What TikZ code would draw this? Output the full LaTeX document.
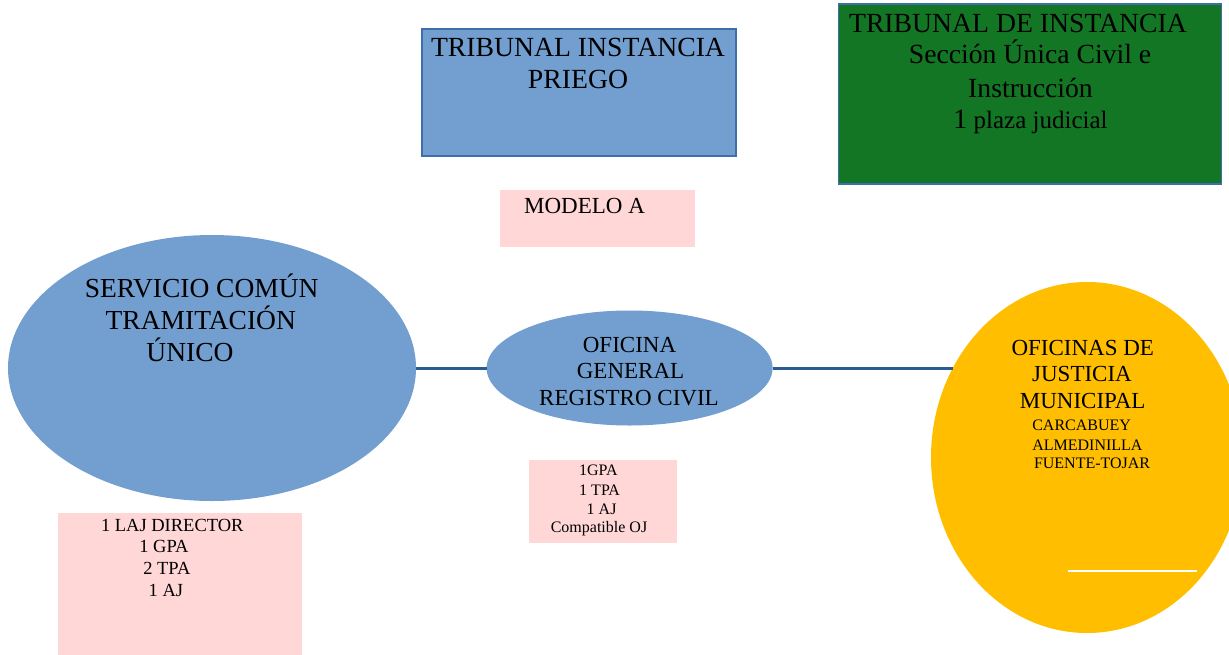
\documentclass[tikz,border=0pt]{standalone}
\usepackage{fontspec}
\setmainfont{Liberation Serif}
\usetikzlibrary{shapes.geometric}
\definecolor{skyb}{RGB}{114,159,207}
\definecolor{skybd}{RGB}{62,110,172}
\definecolor{darkg}{RGB}{19,118,36}
\definecolor{amber}{RGB}{255,191,0}
\definecolor{pinkbg}{RGB}{255,215,215}
\definecolor{linkb}{RGB}{42,92,148}
\newcommand\myfs[1]{\fontsize{#1}{#1}\selectfont}
\begin{document}
\begin{tikzpicture}[x=1pt,y=-1pt,
  box/.style={rectangle,inner sep=0,outer sep=0,anchor=north west},
  oval/.style={ellipse,inner sep=0,outer sep=0},
  conn/.style={draw=linkb,line width=3pt},
  txt/.style={inner sep=0,outer sep=0,anchor=base},
  txtl/.style={inner sep=0,outer sep=0,anchor=base west}]
\useasboundingbox (0,0) rectangle (1229,654);
\fill[white] (0,0) rectangle (1229,654);

% shapes
\node[box,fill=skyb,draw=skybd,line width=1.5pt,minimum width=314pt,minimum height=127pt] (tip) at (422,29) {};
\node[box,fill=darkg,draw=skybd,line width=1.2pt,minimum width=383pt,minimum height=180pt] (tdi) at (838.5,4) {};
\node[box,fill=pinkbg,minimum width=195pt,minimum height=57pt] (moda) at (500,190) {};
\node[oval,fill=skyb,minimum width=408pt,minimum height=266pt] (scu) at (212,368) {};
\node[oval,fill=skyb,minimum width=286pt,minimum height=115pt] (ogrc) at (629.6,368) {};
\node[oval,fill=amber,minimum width=312pt,minimum height=351pt] (ojm) at (1087,457.5) {};
\node[box,fill=pinkbg,minimum width=244pt,minimum height=142pt] (pscu) at (58,513) {};
\node[box,fill=pinkbg,minimum width=147.5pt,minimum height=82.5pt] (pogrc) at (529.3,460) {};

% connectors
\draw[conn] (scu.east) -- (ogrc.west);
\draw[conn] (ogrc.east) -- (ogrc.east -| ojm.146.3);

% white rule inside the yellow ellipse
\coordinate (wl1) at (1068,571);
\coordinate (wl2) at (1197,571);
\draw[white,line width=1.6pt] (wl1) -- (wl2);

% texts: Tribunal Instancia Priego
\node[txt,font=\myfs{27.7}] (t1a) at (578,56) {TRIBUNAL INSTANCIA};
\node[txt,font=\myfs{27.7}] (t1b) at (578,88) {PRIEGO};

% green box
\node[txt,font=\myfs{27.7}] (t2a) at (1018,32) {TRIBUNAL DE INSTANCIA};
\node[txt,font=\myfs{27.7}] (t2b) at (1030,63) {Sección Única Civil e};
\node[txt,font=\myfs{27.7}] (t2c) at (1030.5,97) {Instrucción};
\node[txt,font=\myfs{25}] (t2d) at (1030.5,128) {{\myfs{28}1} plaza judicial};

% Modelo A
\node[txt,font=\myfs{23}] (t3) at (584.5,213) {MODELO A};

% Servicio comun
\node[txt,font=\myfs{27.5}] (t4a) at (201.7,297) {SERVICIO COMÚN};
\node[txt,font=\myfs{27.5}] (t4b) at (200.8,329) {TRAMITACIÓN};
\node[txt,font=\myfs{27.5}] (t4c) at (190,361) {ÚNICO};

% Oficina general registro civil
\node[txt,font=\myfs{23}] (t5a) at (629.5,352) {OFICINA};
\node[txt,font=\myfs{23}] (t5b) at (630.5,378) {GENERAL};
\node[txt,font=\myfs{23}] (t5c) at (629,405) {REGISTRO CIVIL};

% Oficinas de justicia municipal
\node[txt,font=\myfs{23}] (t6a) at (1082.8,355) {OFICINAS DE};
\node[txt,font=\myfs{23}] (t6b) at (1082,381.7) {JUSTICIA};
\node[txt,font=\myfs{23}] (t6c) at (1082.7,408) {MUNICIPAL};
\node[txtl,font=\myfs{16}] (t6d) at (1032.3,430) {CARCABUEY};
\node[txtl,font=\myfs{16}] (t6e) at (1032.3,450) {ALMEDINILLA};
\node[txtl,font=\myfs{16}] (t6f) at (1034,468) {FUENTE-TOJAR};

% staff of servicio comun
\node[txtl,font=\myfs{18.5}] (t7a) at (101,531.7) {1 LAJ DIRECTOR};
\node[txtl,font=\myfs{18.5}] (t7b) at (139.3,552.7) {1 GPA};
\node[txtl,font=\myfs{18.5}] (t7c) at (143.3,574.3) {2 TPA};
\node[txtl,font=\myfs{18.5}] (t7d) at (148.7,596) {1 AJ};

% staff of oficina general
\node[txt,font=\myfs{16}] (t8a) at (598.4,475.7) {1GPA};
\node[txt,font=\myfs{16}] (t8b) at (599.6,495) {1 TPA};
\node[txt,font=\myfs{16}] (t8c) at (601.6,514) {1 AJ};
\node[txt,font=\myfs{16}] (t8d) at (599,532.3) {Compatible OJ};
\end{tikzpicture}
\end{document}
